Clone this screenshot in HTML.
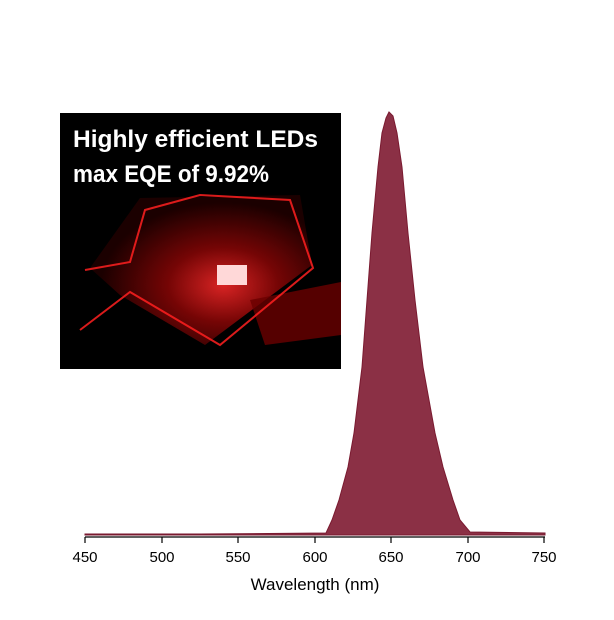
<!DOCTYPE html>
<html><head><style>body{margin:0;background:#fff}</style></head><body>
<svg width="614" height="615" xmlns="http://www.w3.org/2000/svg" font-family="Liberation Sans, sans-serif">
<rect width="614" height="615" fill="#fff"/>
<polygon fill="#8b3045" stroke="#7a1a30" stroke-width="1" points="85,534 200,534 326,533 332,520 339,500 348,467 354,433 362,367 367,300 372,233 378,167 382,133 386,118 389,112 393,116 397,133 402,167 408,233 415,300 423,367 435,433 443,467 453,500 460,520 470,532 545,533 545,535 85,535"/>
<line x1="85" y1="537" x2="545" y2="537" stroke="#000" stroke-width="1.2"/>
<g stroke="#000" stroke-width="1.2">
<line x1="85" y1="537" x2="85" y2="543"/><line x1="162" y1="537" x2="162" y2="543"/><line x1="238" y1="537" x2="238" y2="543"/><line x1="315" y1="537" x2="315" y2="543"/><line x1="391" y1="537" x2="391" y2="543"/><line x1="468" y1="537" x2="468" y2="543"/><line x1="544" y1="537" x2="544" y2="543"/>
</g>
<g font-size="15" text-anchor="middle" fill="#000">
<text x="85" y="562">450</text><text x="162" y="562">500</text><text x="238" y="562">550</text><text x="315" y="562">600</text><text x="391" y="562">650</text><text x="468" y="562">700</text><text x="544" y="562">750</text>
<text x="315" y="590" font-size="17">Wavelength (nm)</text>
</g>
<defs><radialGradient id="g" cx="0.6" cy="0.6" r="0.55"><stop offset="0" stop-color="#ff2a2a"/><stop offset="0.45" stop-color="#8a0606"/><stop offset="1" stop-color="#200000"/></radialGradient></defs>
<rect x="60" y="113" width="281" height="256" fill="#000"/>
<polygon points="140,198 300,195 312,265 205,345 120,295 90,268" fill="url(#g)" opacity="0.85"/>
<polygon points="250,300 341,282 341,335 265,345" fill="#6a0000" opacity="0.8"/>
<g fill="none" stroke="#ff2020" stroke-width="2" opacity="0.85">
<polyline points="85,270 130,262 145,210 200,195 290,200 313,268 220,345 130,292 80,330"/>
</g>
<rect x="217" y="265" width="30" height="20" fill="#ffd8d8"/>
<text x="73" y="147" font-size="24" font-weight="bold" fill="#fff" textLength="245" lengthAdjust="spacingAndGlyphs">Highly efficient LEDs</text>
<text x="73" y="182" font-size="24" font-weight="bold" fill="#fff" textLength="196" lengthAdjust="spacingAndGlyphs">max EQE of 9.92%</text>
</svg>
</body></html>
